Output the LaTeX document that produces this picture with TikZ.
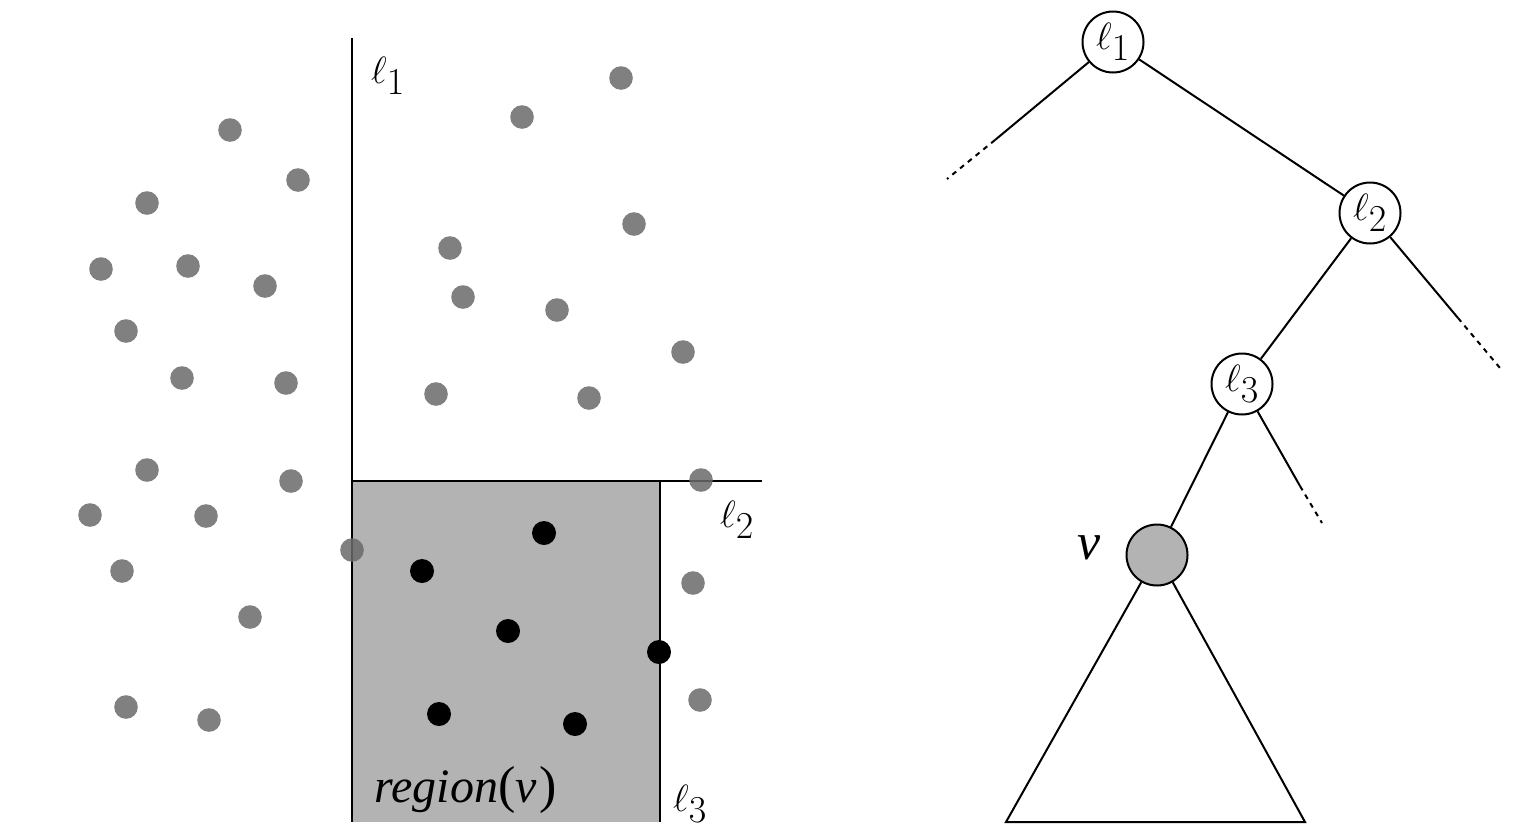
\documentclass[tikz,border=0pt]{standalone}
\usepackage{fix-cm}
\usepackage{fontspec}
\newfontfamily\tfont{Liberation Serif}
\definecolor{ptgray}{HTML}{6A6A6A}
\definecolor{regiongray}{HTML}{B3B3B3}
\begin{document}
\begin{tikzpicture}[x=1pt,y=-1pt,
  edge/.style={line width=2pt},
  splitline/.style={line width=2pt},
  dots/.style={line width=2pt, dash pattern=on 5pt off 5pt},
  tnode/.style={circle, draw, line width=2pt, minimum size=61pt, inner sep=0pt, fill=white, font=\fontsize{38}{40}\selectfont},
  lab/.style={inner sep=0pt, font=\fontsize{38}{40}\selectfont},
  tlab/.style={inner sep=0pt, font=\fontsize{48}{52}\selectfont\tfont\itshape},
  gpt/.style={fill=ptgray, fill opacity=0.85},
  bpt/.style={fill=black}]
\useasboundingbox (0,0) rectangle (1520,836);
% region
\fill[regiongray] (352,481) rectangle (660,822);
% split lines
\coordinate (l1top) at (352,38);
\coordinate (l1bot) at (352,822);
\coordinate (l2left) at (352,481);
\coordinate (l2right) at (762,481);
\coordinate (l3top) at (660,481);
\coordinate (l3bot) at (660,822);
\draw[splitline] (l1top) -- (l1bot);
\draw[splitline] (l2left) -- (l2right);
\draw[splitline] (l3top) -- (l3bot);
\node[lab] (lab1) at (388,76) {$\ell_{\textstyle 1}$};
\node[lab] (lab2) at (737,520) {$\ell_{\textstyle 2}$};
\node[lab] (lab3) at (690,804) {$\ell_{\textstyle 3}$};
\node[tlab] (reg) at (466,790) {region{\upshape\fontsize{52}{56}\selectfont(}ν\kern3pt{\upshape\fontsize{52}{56}\selectfont)}};
% gray points
\foreach \p in {(230,130),(298,180),(147,203),(101,269),(188,266),(265,286),
  (126,331),(182,378),(286,383),(147,470),(291,481),(90,515),(206,516),
  (352,550),(122,571),(250,617),(126,707),(209,720),
  (621,78),(522,117),(634,224),(450,248),(463,297),(557,310),(683,352),
  (436,394),(589,398),(701,480),(693,583),(700,700)}
  \fill[gpt] \p circle (11.8);
% black points
\foreach \p in {(544,533),(422,571),(508,631),(659,652),(439,714),(575,724)}
  \fill[bpt] \p circle (12);
% tree
\node[tnode] (n1) at (1113,42) {$\ell_{\textstyle 1}$};
\node[tnode] (n2) at (1370,213) {$\ell_{\textstyle 2}$};
\node[tnode] (n3) at (1242,384) {$\ell_{\textstyle 3}$};
\node[tnode, fill=regiongray] (nv) at (1157,555) {};
\node[tlab, font=\fontsize{52}{56}\selectfont\tfont\itshape] (vlab) at (1089,548) {ν};
\coordinate (c1a) at (995,140);
\coordinate (c1b) at (947,179);
\coordinate (c2a) at (1458,318);
\coordinate (c2b) at (1500,368);
\coordinate (c3a) at (1300,486);
\coordinate (c3b) at (1322,523);
\coordinate (tl) at (1006,822);
\coordinate (tr) at (1305,822);
\draw[edge] (n1) -- (n2);
\draw[edge] (n2) -- (n3);
\draw[edge] (n3) -- (nv);
\draw[edge] (n1) -- (c1a);
\draw[dots] (c1a) -- (c1b);
\draw[edge] (n2) -- (c2a);
\draw[dots] (c2a) -- (c2b);
\draw[edge] (n3) -- (c3a);
\draw[dots] (c3a) -- (c3b);
\draw[edge, line join=miter] (nv.240) -- (tl) -- (tr) -- (nv.-60);
\end{tikzpicture}
\end{document}
